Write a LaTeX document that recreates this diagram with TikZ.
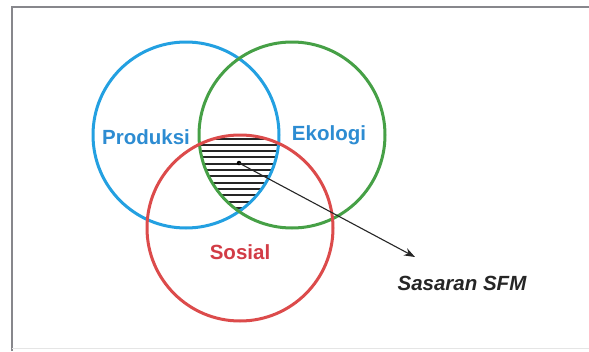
\documentclass[tikz,border=0pt]{standalone}
\usepackage{fontspec}
\setmainfont{Liberation Sans}
\usetikzlibrary{arrows.meta}
\definecolor{cblue}{RGB}{35,160,225}
\definecolor{cgreen}{RGB}{70,160,70}
\definecolor{cred}{RGB}{220,75,75}
\definecolor{tblue}{RGB}{45,140,210}
\definecolor{tred}{RGB}{210,60,70}
\definecolor{framegray}{RGB}{135,135,140}
\tikzset{
  ring/.style={line width=3pt},
  lbl/.style={font=\fontsize{20.5}{24}\selectfont\bfseries, inner sep=0pt},
  hatchline/.style={line width=2pt, black!85},
}
\begin{document}
\begin{tikzpicture}[x=1pt,y=-1pt]
\useasboundingbox (0,0) rectangle (589,351);
\fill[white] (0,0) rectangle (589,351);
% frame
\draw[framegray, line width=2pt] (12,351) -- (12,7) -- (589,7);
\draw[black!10, line width=0.8pt] (12,348) -- (589,348);
% hatch
\begin{scope}
\clip (186,135) circle[radius=93pt];
\clip (292,135) circle[radius=93pt];
\clip (240,228) circle[radius=93pt];
\foreach \k in {0,...,11} {
  \draw[hatchline] (140,138.5+6.3*\k) -- (340,138.5+6.3*\k);
}
\end{scope}
% circles
\draw[ring, cblue] (186,135) circle[radius=93pt];
\draw[ring, cgreen] (292,135) circle[radius=93pt];
\draw[ring, cred] (240,228) circle[radius=93pt];
% labels
\node[lbl, text=tblue] (prod) at (146,137) {Produksi};
\node[lbl, text=tblue] (eko) at (329,135) {Ekologi};
\node[lbl, text=tred] (sos) at (240,252) {Sosial};
\node[lbl, font=\fontsize{20.5}{24}\selectfont\bfseries\itshape, text=black!85] (sfm) at (462,283) {Sasaran SFM};
% pointer
\node[circle, fill=black, inner sep=0pt, minimum size=4.5pt] (dot) at (239,163) {};
\coordinate (tip) at (415,257);
\draw[-{Stealth[length=11pt,width=8pt]}, line width=1.1pt, black!85] (dot.center) -- (tip);
\end{tikzpicture}
\end{document}
